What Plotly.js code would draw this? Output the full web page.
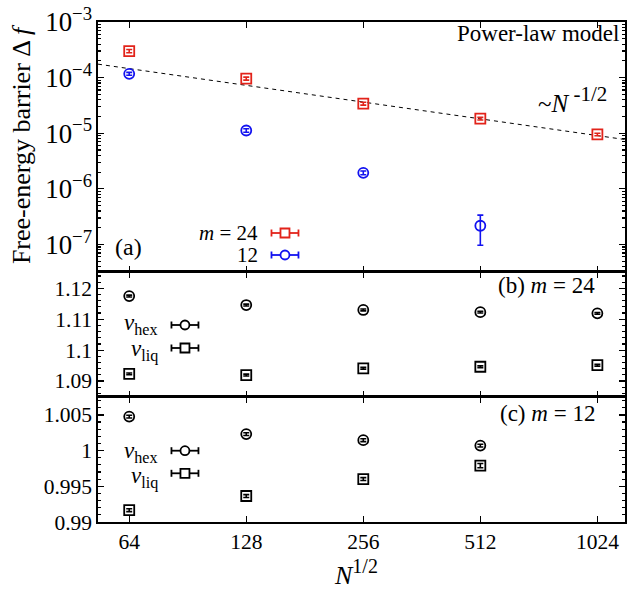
<!DOCTYPE html>
<html>
<head>
<meta charset="utf-8">
<script src="https://cdn.plot.ly/plotly-3.0.1.min.js"></script>
<style>html,body{margin:0;padding:0;background:#fff;}#chart{width:634px;height:591px;}</style>
</head>
<body>
<div id="chart"></div>
<script>
// ---- data ----
var sqrtN = [64, 128, 256, 512, 1024];
var tickLabels = ['64', '128', '256', '512', '1024'];

// panel (a): free-energy barrier
var df24 = [3.0e-4, 9.6e-5, 3.4e-5, 1.83e-5, 9.5e-6];
var df24Err = [2.0e-5, 6.0e-6, 2.0e-6, 1.0e-6, 5.0e-7];
var df12N = [64, 128, 256, 512];
var df12 = [1.17e-4, 1.12e-5, 1.94e-6, 2.17e-7];
var df12Err = [7.0e-6, 8.0e-7, 1.5e-7, 1.2e-7];
var fitX = [53.2, 1206];
var fitY = [1.746e-4, 7.7e-6];

// panel (b): m = 24
var hex24 = [1.1175, 1.1146, 1.1130, 1.1123, 1.1119];
var liq24 = [1.0923, 1.0919, 1.0941, 1.0946, 1.0951];
var err24 = [0.0003, 0.0003, 0.0003, 0.0003, 0.0003];

// panel (c): m = 12
var cN = [64, 128, 256, 512];
var hex12 = [1.00476, 1.00231, 1.00146, 1.00070];
var liq12 = [0.99166, 0.99364, 0.99601, 0.99789];
var errHex12 = [0.0002, 0.0002, 0.0002, 0.0002];
var errLiq12 = [0.0002, 0.0002, 0.0002, 0.0003];

// ---- styles ----
var FONT = '"Liberation Serif", "Times New Roman", Times, serif';
var RED = '#e2231a';
var BLUE = '#1212f0';
var BLACK = '#000000';
var TICK = 21.5;

function pts(x, y, err, color, symbol, xa, ya) {
  return {
    x: x, y: y, type: 'scatter', mode: 'markers', xaxis: xa, yaxis: ya,
    marker: {symbol: symbol, size: 10, color: color, line: {color: color, width: 1.8}},
    error_y: {type: 'data', array: err, visible: true, color: color, thickness: 1.6, width: 3},
    showlegend: false, hoverinfo: 'x+y'
  };
}

var traces = [
  {x: fitX, y: fitY, type: 'scatter', mode: 'lines', xaxis: 'x3', yaxis: 'y3',
   line: {color: BLACK, width: 1, dash: '4px,4px'}, showlegend: false},
  pts(sqrtN, df24, df24Err, RED, 'square-open', 'x3', 'y3'),
  pts(df12N, df12, df12Err, BLUE, 'circle-open', 'x3', 'y3'),
  pts(sqrtN, hex24, err24, BLACK, 'circle-open', 'x2', 'y2'),
  pts(sqrtN, liq24, err24, BLACK, 'square-open', 'x2', 'y2'),
  pts(cN, hex12, errHex12, BLACK, 'circle-open', 'x', 'y'),
  pts(cN, liq12, errLiq12, BLACK, 'square-open', 'x', 'y')
];

var xRange = [Math.log10(53.2), Math.log10(1206)];
function xax(anchor, labels) {
  return {
    type: 'log', range: xRange, anchor: anchor,
    tickvals: sqrtN, ticktext: tickLabels, showticklabels: labels,
    ticks: 'inside', ticklen: 6, tickwidth: 1.2, tickcolor: BLACK,
    showline: true, linecolor: BLACK, linewidth: 1.6, mirror: 'ticks',
    showgrid: false, zeroline: false,
    tickfont: {family: FONT, size: TICK, color: BLACK}
  };
}
function yaxLin(domain, range, dtick, minor, anchor) {
  return {
    domain: domain, range: range, anchor: anchor, dtick: dtick,
    ticks: 'inside', ticklen: 6, tickwidth: 1.2, tickcolor: BLACK,
    minor: {ticks: 'inside', ticklen: 3, dtick: minor, tickcolor: BLACK, showgrid: false},
    showline: true, linecolor: BLACK, linewidth: 1.6, mirror: 'ticks',
    showgrid: false, zeroline: false,
    tickfont: {family: FONT, size: TICK, color: BLACK}
  };
}

function ann(x, y, text, size, xanchor, extra) {
  var a = {xref: 'paper', yref: 'paper', x: x, y: y, text: text, showarrow: false, borderpad: 0,
           xanchor: xanchor, yanchor: 'middle', font: {family: FONT, size: size, color: BLACK}};
  if (extra) for (var k in extra) a[k] = extra[k];
  return a;
}

var layout = {
  width: 634, height: 591,
  margin: {l: 98, r: 9, t: 22, b: 69},
  paper_bgcolor: '#fff', plot_bgcolor: '#fff',
  font: {family: FONT, color: BLACK},
  showlegend: false,
  xaxis: xax('y', true),
  xaxis2: xax('y2', false),
  xaxis3: xax('y3', false),
  yaxis: yaxLin([0, 0.2506], [0.99, 1.00755], 0.005, 0.001, 'x'),
  yaxis2: yaxLin([0.2506, 0.5006], [1.0849, 1.1254], 0.01, 0.002, 'x2'),
  yaxis3: {
    domain: [0.5006, 1], type: 'log', range: [-7.49, -3], anchor: 'x3',
    dtick: 1, exponentformat: 'power',
    ticks: 'inside', ticklen: 6, tickwidth: 1.2, tickcolor: BLACK,
    minor: {ticks: 'inside', ticklen: 3, dtick: 'D1', tickcolor: BLACK, showgrid: false},
    showline: true, linecolor: BLACK, linewidth: 1.6, mirror: 'ticks',
    showgrid: false, zeroline: false,
    tickfont: {family: FONT, size: TICK, color: BLACK}
  },
  annotations: [
    ann(-0.145, 0.755, 'Free-energy barrier Δ <i>f</i>', 26, 'center', {textangle: -90}),
    ann(0.49, -0.1, '<i>N</i><sup><span style="font-size:20px">1/2</span></sup>', 26, 'center'),
    ann(0.991, 0.978, 'Power-law model', 23, 'right'),
    ann(0.967, 0.845, '~<i>N</i><sup><span style="font-size:21px"> -1/2</span></sup>', 25, 'right'),
    ann(0.03, 0.55, '(a)', 24, 'left'),
    ann(0.305, 0.579, '<i>m</i> = 24', 21, 'right'),
    ann(0.305, 0.533, '12', 21, 'right'),
    ann(0.945, 0.474, '(b) <i>m</i> = 24', 23, 'right'),
    ann(0.945, 0.218, '(c) <i>m</i> = 12', 23, 'right'),
    ann(0.114, 0.396, '<i>v</i><sub>hex</sub>', 23, 'right'),
    ann(0.116, 0.342, '<i>v</i><sub>liq</sub>', 23, 'right'),
    ann(0.114, 0.141, '<i>v</i><sub>hex</sub>', 23, 'right'),
    ann(0.116, 0.089, '<i>v</i><sub>liq</sub>', 23, 'right')
  ],
  shapes: []
};

// legend samples (marker with horizontal error bar), in paper coordinates
function legendSample(cx, cy, halfLen, symbol, color) {
  var dx = 4.5 / 527, dy = 4.5 / 500, cap = 3.5 / 500;
  var s = [];
  s.push({type: 'line', xref: 'paper', yref: 'paper', x0: cx - halfLen, x1: cx - dx, y0: cy, y1: cy, line: {color: color, width: 1.8}});
  s.push({type: 'line', xref: 'paper', yref: 'paper', x0: cx + dx, x1: cx + halfLen, y0: cy, y1: cy, line: {color: color, width: 1.8}});
  s.push({type: 'line', xref: 'paper', yref: 'paper', x0: cx - halfLen, x1: cx - halfLen, y0: cy - cap, y1: cy + cap, line: {color: color, width: 1.8}});
  s.push({type: 'line', xref: 'paper', yref: 'paper', x0: cx + halfLen, x1: cx + halfLen, y0: cy - cap, y1: cy + cap, line: {color: color, width: 1.8}});
  s.push({type: symbol, xref: 'paper', yref: 'paper', x0: cx - dx, x1: cx + dx, y0: cy - dy, y1: cy + dy, line: {color: color, width: 1.8}, fillcolor: 'rgba(0,0,0,0)'});
  return s;
}
var L = 13.5 / 527;
layout.shapes = layout.shapes
  .concat(legendSample(0.3548, 0.578, L, 'rect', RED))
  .concat(legendSample(0.3548, 0.534, L, 'circle', BLUE))
  .concat(legendSample(0.165, 0.394, L, 'circle', BLACK))
  .concat(legendSample(0.165, 0.348, L, 'rect', BLACK))
  .concat(legendSample(0.165, 0.1426, L, 'circle', BLACK))
  .concat(legendSample(0.165, 0.0974, L, 'rect', BLACK));

Plotly.newPlot('chart', traces, layout, {displayModeBar: false, staticPlot: true});
</script>
</body>
</html>
